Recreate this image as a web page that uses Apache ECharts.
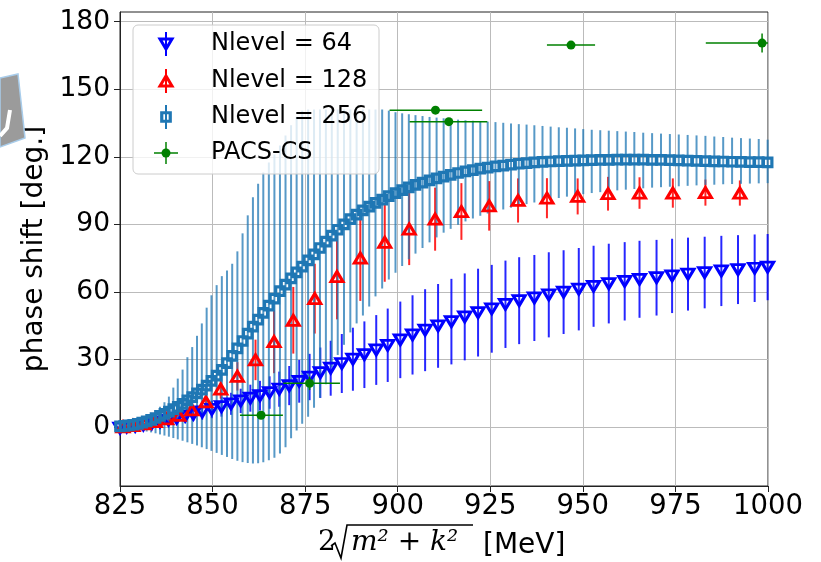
<!DOCTYPE html>
<html>
<head>
<meta charset="utf-8">
<script src="https://cdn.jsdelivr.net/npm/echarts@6.0.0/dist/echarts.min.js"></script>
<style>
html, body { margin: 0; padding: 0; background: #fff; }
#chart { width: 821px; height: 562px; }
</style>
</head>
<body>
<div id="chart"></div>
<script>
// Nlevel = 64
var x64 = [825.0, 826.8, 829.1, 831.3, 833.6, 835.8, 838.1, 840.3, 842.6, 844.8,
    847.2, 849.8, 852.4, 855.0, 857.6, 860.2, 862.8, 865.4, 868.0, 870.7,
    873.4, 876.2, 879.1, 881.9, 884.9, 887.9, 891.0, 894.2, 897.3, 900.7,
    904.0, 907.4, 910.9, 914.5, 918.1, 921.7, 925.4, 929.1, 932.8, 936.9,
    940.8, 944.8, 948.9, 952.9, 957.0, 961.3, 965.3, 969.9, 974.1, 978.4,
    982.9, 987.4, 991.9, 996.4, 999.9];
var y64 = [-0.5, 0.0, 0.4, 0.9, 1.6, 2.3, 3.1, 3.9, 4.8, 5.7,
    6.7, 7.8, 9.0, 10.3, 11.6, 12.8, 13.9, 15.3, 16.8, 18.4,
    20.3, 22.2, 24.1, 26.1, 28.2, 30.1, 32.1, 34.2, 36.3, 38.7,
    40.9, 43.0, 44.9, 46.8, 48.9, 50.8, 52.5, 54.5, 56.1, 57.3,
    58.7, 59.9, 61.2, 62.5, 63.7, 64.7, 65.6, 66.3, 67.1, 67.9,
    68.6, 69.3, 69.9, 70.5, 71.0];
var e64 = [0.3, 0.5, 0.7, 0.9, 1.2, 1.5, 1.8, 2.2, 2.6, 3.0,
    3.4, 3.9, 4.4, 4.9, 5.4, 6.0, 6.6, 7.2, 7.8, 8.7,
    9.5, 10.3, 11.2, 12.2, 13.1, 14.0, 14.8, 15.5, 16.3, 17.0,
    17.6, 18.2, 18.6, 19.0, 19.3, 19.5, 19.5, 19.4, 19.3, 19.1,
    18.9, 18.6, 18.3, 18.0, 17.7, 17.4, 17.1, 16.8, 16.5, 16.2,
    15.9, 15.6, 15.3, 15.0, 14.7];

// Nlevel = 128
var x128 = [825.8, 828.5, 831.5, 834.5, 837.6, 840.9, 844.4, 848.2, 852.2, 856.7,
    861.6, 866.6, 871.8, 877.6, 883.6, 889.9, 896.5, 903.1, 910.1, 917.2,
    924.7, 932.5, 940.3, 948.6, 956.8, 965.3, 974.3, 983.1, 992.4];
var y128 = [0.1, 0.6, 1.4, 2.4, 3.6, 5.2, 7.6, 11.2, 16.8, 22.5,
    29.8, 37.9, 47.4, 57.0, 66.8, 75.0, 82.0, 87.9, 92.3, 95.7,
    98.2, 100.6, 101.6, 102.4, 103.6, 103.9, 103.9, 104.1, 103.9];
var e128 = [0.1, 0.3, 0.5, 0.8, 1.1, 1.5, 2.2, 3.0, 4.2, 6.3,
    9.0, 14.0, 14.8, 15.5, 19.0, 19.0, 17.5, 16.0, 14.0, 12.6,
    11.0, 9.8, 8.9, 8.0, 7.5, 7.0, 6.5, 5.8, 5.6];

// Nlevel = 256 (asymmetric errors)
var x256 = [825.0, 826.2, 827.4, 828.6, 829.8, 831.0, 832.2, 833.4, 834.6, 835.8,
    837.0, 838.2, 839.4, 840.6, 841.9, 843.2, 844.5, 845.8, 847.1, 848.4,
    849.7, 851.1, 852.5, 853.9, 855.3, 856.7, 858.1, 859.5, 860.9, 862.3,
    863.7, 865.2, 866.7, 868.2, 869.7, 871.2, 872.7, 874.2, 875.8, 877.4,
    879.0, 880.6, 882.2, 883.8, 885.5, 887.2, 888.9, 890.6, 892.3, 894.0,
    895.8, 897.6, 899.4, 901.2, 903.0, 904.8, 906.7, 908.6, 910.5, 912.4,
    914.3, 916.3, 918.3, 920.3, 922.3, 924.3, 926.4, 928.5, 930.6, 932.7,
    934.8, 936.9, 939.1, 941.3, 943.5, 945.7, 947.9, 950.1, 952.4, 954.7,
    957.0, 959.3, 961.6, 963.9, 966.3, 968.7, 971.1, 973.5, 975.9, 978.3,
    980.7, 983.1, 985.5, 987.9, 990.3, 992.7, 995.1, 997.5, 999.9];
var y256 = [0.3, 0.5, 0.7, 1.0, 1.4, 1.9, 2.5, 3.2, 4.0, 4.9,
    5.8, 6.8, 7.9, 9.0, 10.3, 11.8, 13.3, 14.9, 16.6, 18.4,
    20.5, 22.8, 25.4, 28.4, 31.6, 34.9, 38.2, 41.5, 44.6, 47.7,
    50.7, 53.9, 57.0, 60.3, 63.2, 66.0, 68.7, 71.2, 74.0, 76.7,
    79.5, 82.3, 85.0, 87.6, 90.0, 92.3, 94.3, 96.2, 97.9, 99.5,
    101.0, 102.5, 103.9, 105.2, 106.4, 107.5, 108.5, 109.5, 110.4, 111.2,
    112.0, 112.8, 113.5, 114.1, 114.7, 115.2, 115.7, 116.1, 116.5, 116.9,
    117.2, 117.5, 117.7, 117.9, 118.1, 118.2, 118.3, 118.4, 118.5, 118.6,
    118.6, 118.7, 118.7, 118.7, 118.7, 118.6, 118.6, 118.5, 118.4, 118.3,
    118.2, 118.1, 118.0, 117.9, 117.8, 117.7, 117.6, 117.6, 117.5];
var hi256 = [0.8, 1.2, 1.6, 2.1, 2.8, 3.6, 4.5, 5.8, 7.3, 9.0,
    11.0, 13.5, 17.5, 21.5, 25.5, 31.0, 35.5, 40.5, 46.0, 53.0,
    58.5, 63.0, 67.0, 69.5, 72.5, 78.0, 86.0, 94.0, 102.0, 108.0,
    113.0, 117.5, 121.0, 125.0, 129.5, 134.0, 137.8, 140.5, 141.0, 141.0,
    141.0, 141.0, 141.0, 141.0, 141.0, 141.0, 141.0, 141.0, 141.0, 141.0,
    141.0, 140.5, 139.8, 139.3, 138.9, 138.5, 138.1, 137.7, 137.4, 137.1,
    136.8, 136.5, 136.2, 136.0, 135.8, 135.6, 135.4, 135.1, 134.8, 134.5,
    134.3, 134.0, 133.7, 133.4, 133.1, 132.9, 132.6, 132.3, 132.0, 131.8,
    131.6, 131.4, 131.2, 131.0, 130.7, 130.5, 130.3, 130.1, 129.9, 129.7,
    129.5, 129.3, 129.0, 128.8, 128.5, 128.3, 128.1, 127.9, 127.6];
var lo256 = [-0.3, -0.5, -0.7, -1.0, -1.3, -1.6, -2.0, -2.4, -2.8, -3.3,
    -3.8, -4.3, -4.9, -5.5, -6.1, -6.8, -7.5, -8.2, -9.0, -9.8,
    -10.6, -11.5, -12.4, -13.3, -14.2, -15.0, -15.6, -16.0, -16.2, -16.1,
    -15.7, -14.8, -13.6, -11.8, -9.0, -5.0, -1.5, 1.5, 4.5, 8.5,
    13.0, 19.0, 26.5, 32.0, 36.5, 42.0, 46.0, 49.5, 53.5, 58.0,
    61.5, 65.5, 68.5, 71.5, 74.5, 77.0, 79.5, 82.0, 84.2, 86.3,
    88.0, 89.8, 91.3, 92.6, 93.8, 94.8, 95.7, 96.6, 97.4, 98.2,
    99.0, 99.7, 100.4, 101.1, 101.7, 102.3, 102.9, 103.4, 103.9, 104.3,
    104.7, 105.1, 105.4, 105.7, 106.0, 106.3, 106.5, 106.7, 106.9, 107.1,
    107.3, 107.5, 107.6, 107.8, 107.9, 108.0, 108.1, 108.2, 108.3];

// PACS-CS
var pacsX = [863.1, 876.2, 910.2, 913.8, 946.8, 998.4];
var pacsY = [5.2, 19.4, 140.7, 135.6, 169.6, 170.5];
var pacsXLo = [857.4, 869.1, 897.8, 903.2, 940.3, 983.2];
var pacsXHi = [869.0, 884.4, 922.8, 924.2, 953.3, 1013.6];
var pacsYErr = [1.0, 3.0, 1.0, 1.0, 1.0, 4.2];

var yTicks = [0, 30, 60, 90, 120, 150, 180];

var legendNames = ['Nlevel = 64', 'Nlevel = 128', 'Nlevel = 256', 'PACS-CS'];

var C64 = '#0000ff', C128 = '#ff0000', C256 = '#1f77b4', CPACS = '#008000';

function pairs(xs, ys) {
    return xs.map(function (x, i) { return [x, ys[i]]; });
}

// error bar data: [x, low, high]
var err64 = x64.map(function (x, i) { return [x, y64[i] - e64[i], y64[i] + e64[i]]; });
var err128 = x128.map(function (x, i) { return [x, y128[i] - e128[i], y128[i] + e128[i]]; });
var err256 = x256.map(function (x, i) { return [x, lo256[i], hi256[i]]; });
var errPacs = pacsX.map(function (x, i) {
    return [x, pacsY[i], pacsXLo[i], pacsXHi[i], pacsY[i] - pacsYErr[i], pacsY[i] + pacsYErr[i]];
});

function vErr(color, width) {
    return function (params, api) {
        var a = api.coord([api.value(0), api.value(1)]);
        var b = api.coord([api.value(0), api.value(2)]);
        return {
            type: 'line',
            shape: { x1: a[0], y1: a[1], x2: b[0], y2: b[1] },
            style: { stroke: color, lineWidth: width }
        };
    };
}

function pacsErr(params, api) {
    var cs = params.coordSys;
    var l = api.coord([api.value(2), api.value(1)]);
    var r = api.coord([api.value(3), api.value(1)]);
    var t = api.coord([api.value(0), api.value(5)]);
    var b = api.coord([api.value(0), api.value(4)]);
    var right = Math.min(r[0], cs.x + cs.width);
    return {
        type: 'group',
        children: [
            { type: 'line', shape: { x1: l[0], y1: l[1], x2: right, y2: r[1] }, style: { stroke: CPACS, lineWidth: 1.5 } },
            { type: 'line', shape: { x1: t[0], y1: t[1], x2: b[0], y2: b[1] }, style: { stroke: CPACS, lineWidth: 1.5 } }
        ]
    };
}

var chart = echarts.init(document.getElementById('chart'));

var font = '"DejaVu Sans", sans-serif';
var lx = 166, tx = 211, ly = [44, 81, 117, 153];

var option = {
    animation: false,
    grid: {
        left: 120, right: 53, top: 12, bottom: 76,
        show: true, borderColor: '#222', borderWidth: 1
    },
    xAxis: {
        type: 'value', min: 825, max: 1000, interval: 25,
        axisLine: { show: true, onZero: false, lineStyle: { color: '#222', width: 1 } },
        axisTick: { show: true, length: 6, lineStyle: { color: '#222' } },
        axisLabel: { color: '#000', fontSize: 27.5, fontFamily: font, margin: 7,
            formatter: function (v) { return String(v); } },
        splitLine: { show: true, lineStyle: { color: '#bbbbbb', width: 1 } }
    },
    yAxis: {
        type: 'value', min: -26.2, max: 184.3,
        name: 'phase shift [deg.]', nameLocation: 'middle', nameGap: 63,
        nameTextStyle: { color: '#000', fontSize: 28, fontFamily: font },
        axisLine: { show: true, onZero: false, lineStyle: { color: '#222', width: 1 } },
        axisTick: { show: true, length: 6, customValues: yTicks, lineStyle: { color: '#222' } },
        axisLabel: { color: '#000', fontSize: 26.5, fontFamily: font, margin: 10, customValues: yTicks },
        splitLine: { show: true, lineStyle: { color: '#bbbbbb', width: 1 } }
    },
    series: [
        { type: 'custom', name: legendNames[0] + ' err', renderItem: vErr('rgba(0,0,255,0.85)', 2), data: err64, z: 2, silent: true },
        { type: 'custom', name: legendNames[1] + ' err', renderItem: vErr('rgba(255,0,0,0.85)', 2), data: err128, z: 3, silent: true },
        { type: 'custom', name: legendNames[2] + ' err', renderItem: vErr('rgba(31,119,180,0.75)', 2), data: err256, z: 4, silent: true },
        {
            type: 'scatter', name: legendNames[0], data: pairs(x64, y64), z: 5,
            symbol: 'triangle', symbolRotate: 180, symbolSize: [12, 10],
            itemStyle: { color: 'rgba(255,255,255,0)', borderColor: C64, borderWidth: 3, opacity: 1 }
        },
        {
            type: 'scatter', name: legendNames[1], data: pairs(x128, y128), z: 6,
            symbol: 'triangle', symbolSize: [12, 10],
            itemStyle: { color: 'rgba(255,255,255,0)', borderColor: C128, borderWidth: 3, opacity: 1 }
        },
        {
            type: 'scatter', name: legendNames[2], data: pairs(x256, y256), z: 7,
            symbol: 'rect', symbolSize: 8.5,
            itemStyle: { color: 'rgba(255,255,255,0)', borderColor: C256, borderWidth: 3.2, opacity: 1 }
        },
        { type: 'custom', name: legendNames[3] + ' err', renderItem: pacsErr, data: errPacs, z: 8, silent: true },
        {
            type: 'scatter', name: legendNames[3], data: pairs(pacsX, pacsY), z: 9,
            symbol: 'circle', symbolSize: 9,
            itemStyle: { color: CPACS, opacity: 1 }
        }
    ],
    graphic: [
        // slide artefact at the left edge
        { type: 'polygon', shape: { points: [[0, 78], [18, 74], [25, 138], [0, 147]] },
          style: { fill: '#9b9b9b', stroke: '#a9cdeb', lineWidth: 1.5 }, z: 1 },
        { type: 'polyline', shape: { points: [[0, 136], [7, 128], [10, 110]] },
          style: { stroke: '#ffffff', lineWidth: 4, fill: null }, z: 2 },

        // legend box
        { type: 'rect', shape: { x: 133, y: 25, width: 246, height: 149, r: 5 },
          style: { fill: 'rgba(255,255,255,0.8)', stroke: '#cccccc', lineWidth: 1 }, z: 20 },
        { type: 'line', shape: { x1: lx, y1: ly[0] - 12, x2: lx, y2: ly[0] + 12 }, style: { stroke: C64, lineWidth: 2 }, z: 21 },
        { type: 'polygon', shape: { points: [[lx - 6, ly[0] - 5], [lx + 6, ly[0] - 5], [lx, ly[0] + 5]] },
          style: { fill: 'none', stroke: C64, lineWidth: 3 }, z: 22 },
        { type: 'line', shape: { x1: lx, y1: ly[1] - 12, x2: lx, y2: ly[1] + 12 }, style: { stroke: C128, lineWidth: 2 }, z: 21 },
        { type: 'polygon', shape: { points: [[lx - 6, ly[1] + 5], [lx + 6, ly[1] + 5], [lx, ly[1] - 5]] },
          style: { fill: 'none', stroke: C128, lineWidth: 3 }, z: 22 },
        { type: 'line', shape: { x1: lx, y1: ly[2] - 12, x2: lx, y2: ly[2] + 12 }, style: { stroke: C256, lineWidth: 2 }, z: 21 },
        { type: 'rect', shape: { x: lx - 4.25, y: ly[2] - 4.25, width: 8.5, height: 8.5 },
          style: { fill: 'none', stroke: C256, lineWidth: 3.2 }, z: 22 },
        { type: 'line', shape: { x1: lx - 12, y1: ly[3], x2: lx + 12, y2: ly[3] }, style: { stroke: CPACS, lineWidth: 1.5 }, z: 21 },
        { type: 'line', shape: { x1: lx, y1: ly[3] - 11, x2: lx, y2: ly[3] + 11 }, style: { stroke: CPACS, lineWidth: 1.5 }, z: 21 },
        { type: 'circle', shape: { cx: lx, cy: ly[3], r: 4.5 }, style: { fill: CPACS }, z: 22 },
        { type: 'text', x: tx, y: ly[0], style: { text: legendNames[0], font: '24px ' + font, fill: '#000', textVerticalAlign: 'middle' }, z: 23 },
        { type: 'text', x: tx, y: ly[1], style: { text: legendNames[1], font: '24px ' + font, fill: '#000', textVerticalAlign: 'middle' }, z: 23 },
        { type: 'text', x: tx, y: ly[2], style: { text: legendNames[2], font: '24px ' + font, fill: '#000', textVerticalAlign: 'middle' }, z: 23 },
        { type: 'text', x: tx, y: ly[3], style: { text: legendNames[3], font: '24px ' + font, fill: '#000', textVerticalAlign: 'middle' }, z: 23 },

        // x axis title: 2 sqrt(m^2 + k^2) [MeV]
        { type: 'text', x: 318, y: 543, style: { text: '2', font: '28px "DejaVu Serif"', fill: '#000', textVerticalAlign: 'middle' } },
        { type: 'polyline', shape: { points: [[331, 546], [335, 543], [341, 558], [347, 525], [473, 525]] },
          style: { stroke: '#000', lineWidth: 1.6, fill: null } },
        { type: 'text', x: 351, y: 543, style: { text: 'm² + k²', font: 'italic 28px "DejaVu Serif"', fill: '#000', textVerticalAlign: 'middle' } },
        { type: 'text', x: 483, y: 546, style: { text: '[MeV]', font: '28px ' + font, fill: '#000', textVerticalAlign: 'middle' } }
    ]
};

chart.setOption(option);
</script>
</body>
</html>
